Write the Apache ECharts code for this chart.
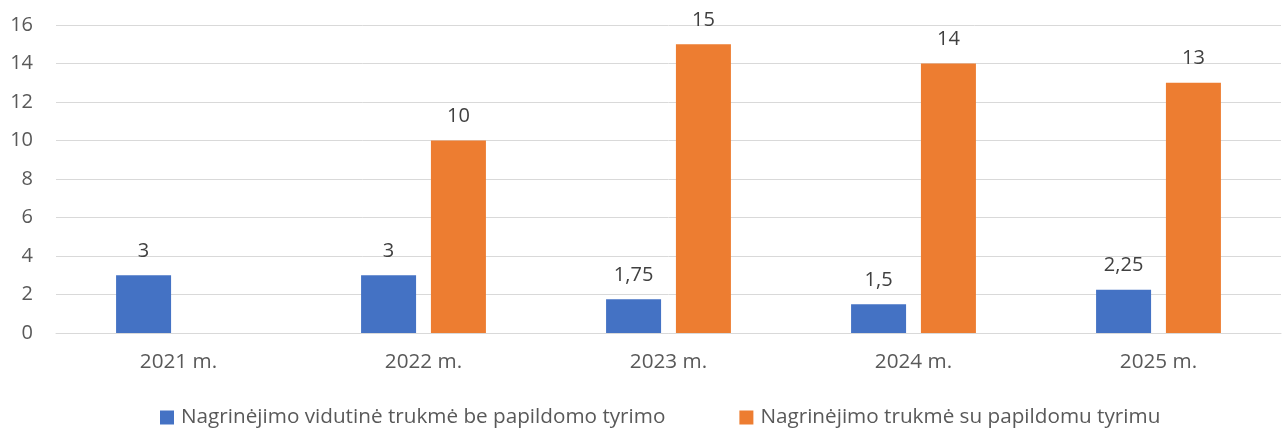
<!DOCTYPE html>
<html>
<head>
<meta charset="utf-8">
<script src="https://cdn.jsdelivr.net/npm/echarts@6/dist/echarts.min.js"></script>
<style>
  html, body { margin: 0; padding: 0; background: #fff; }
  #chart { width: 1283px; height: 431px; }
</style>
</head>
<body>
<div id="chart"></div>
<script>
const categories = ["2021 m.", "2022 m.", "2023 m.", "2024 m.", "2025 m."];
const seriesNames = [
  "Nagrinėjimo vidutinė trukmė be papildomo tyrimo",
  "Nagrinėjimo trukmė su papildomu tyrimu"
];
const withoutExtra = [3, 3, 1.75, 1.5, 2.25];
const withExtra = [null, 10, 15, 14, 13];
const yTicks = { min: 0, max: 16, interval: 2 };

const font = "'Open Sans', 'DejaVu Sans', sans-serif";
const textColor = "#595959";

// decimal comma like the source
const fmt = (v) => String(v).replace(".", ",");

const barLabel = {
  show: true,
  position: "top",
  distance: 14,
  color: "#404040",
  fontSize: 20,
  fontFamily: font,
  formatter: (p) => fmt(p.value)
};

const chart = echarts.init(document.getElementById("chart"));
chart.setOption({
  animation: false,
  textStyle: { fontFamily: font },
  grid: { left: 56, right: 2, top: 25, bottom: 98, containLabel: false },
  legend: {
    top: 402,
    left: 155,
    itemWidth: 14,
    itemHeight: 14,
    itemGap: 74,
    icon: "rect",
    textStyle: { fontSize: 20.7, color: textColor, fontFamily: font, padding: [0, 0, 0, 2] },
    data: seriesNames
  },
  xAxis: {
    type: "category",
    data: categories,
    axisTick: { show: false },
    axisLine: { lineStyle: { color: "#d9d9d9" } },
    axisLabel: { color: textColor, fontSize: 20.7, margin: 19, fontFamily: font }
  },
  yAxis: {
    type: "value",
    min: yTicks.min,
    max: yTicks.max,
    interval: yTicks.interval,
    axisLine: { show: false },
    axisTick: { show: false },
    splitLine: { lineStyle: { color: "#d9d9d9", width: 1 } },
    axisLabel: { color: textColor, fontSize: 20, margin: 23, fontFamily: font }
  },
  series: [
    {
      name: seriesNames[0],
      type: "bar",
      data: withoutExtra,
      barWidth: 55,
      barGap: "27%",
      itemStyle: { color: "#4472C4" },
      label: barLabel
    },
    {
      name: seriesNames[1],
      type: "bar",
      data: withExtra,
      barWidth: 55,
      barGap: "27%",
      itemStyle: { color: "#ED7D31" },
      label: barLabel
    }
  ]
});
</script>
</body>
</html>
